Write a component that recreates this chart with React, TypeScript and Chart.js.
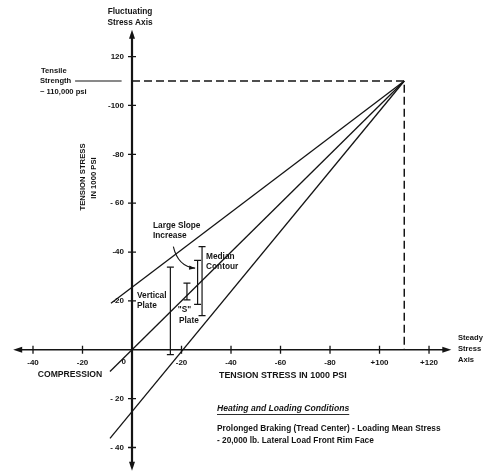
import React, { useEffect, useRef } from "react";
import { Chart, registerables } from "chart.js";

Chart.register(...registerables);

// Stress axes, in 1000 psi
const X_MIN = -48;
const X_MAX = 129;
const Y_MIN = -49.5;
const Y_MAX = 131;

// Tensile strength of the rim material (~110,000 psi)
const tensileStrength = 110;

// Fatigue contours: each runs from its start point up to the tensile strength point
const contourNames = ["Large slope increase", "Median contour", "Lower contour"];
const contourStartX = [-8.5, -8.9, -8.9];
const contourStartY = [19, -8.9, -36.3];

// Measured stress ranges (vertical bars) for each plate design
const rangeNames = ["Vertical plate", "\"S\" plate", "Median A", "Median B"];
const rangeX = [15.5, 22.2, 26.5, 28.3];
const rangeLow = [-2, 20.4, 18.6, 14];
const rangeHigh = [33.8, 27.3, 36.6, 42.2];

// Tick marks and their printed labels
const xTickValues = [-40, -20, 0, 20, 40, 60, 80, 100, 120];
const xTickLabels = ["-40", "-20", "0", "-20", "-40", "-60", "-80", "+100", "+120"];
const yTickValues = [120, 100, 80, 60, 40, 20, -20, -40];
const yTickLabels = ["120", "-100", "-80", "- 60", "-40", "-20", "- 20", "- 40"];

const INK = "#141414";
const FONT = "'Liberation Sans', Arial, sans-serif";

function arrowHead(ctx: CanvasRenderingContext2D, tipX: number, tipY: number, angle: number, len: number, half: number) {
  ctx.save();
  ctx.translate(tipX, tipY);
  ctx.rotate(angle);
  ctx.beginPath();
  ctx.moveTo(0, 0);
  ctx.lineTo(-len, -half);
  ctx.lineTo(-len, half);
  ctx.closePath();
  ctx.fill();
  ctx.restore();
}

const axesPlugin = {
  id: "stressAxes",
  beforeDatasetsDraw(chart: any) {
    const { ctx, chartArea, scales } = chart;
    const xs = scales.x;
    const ys = scales.y;
    const x0 = xs.getPixelForValue(0);
    const y0 = ys.getPixelForValue(0);
    ctx.save();
    ctx.strokeStyle = INK;
    ctx.fillStyle = INK;

    // fluctuating stress axis
    ctx.lineWidth = 2.2;
    ctx.beginPath();
    ctx.moveTo(x0, chartArea.top + 4);
    ctx.lineTo(x0, chartArea.bottom - 4);
    ctx.stroke();
    arrowHead(ctx, x0, chartArea.top, -Math.PI / 2, 9, 3);
    arrowHead(ctx, x0, chartArea.bottom, Math.PI / 2, 9, 3);

    // steady stress axis
    ctx.lineWidth = 1.6;
    ctx.beginPath();
    ctx.moveTo(chartArea.left + 4, y0);
    ctx.lineTo(chartArea.right - 4, y0);
    ctx.stroke();
    arrowHead(ctx, chartArea.left, y0, Math.PI, 9, 3);
    arrowHead(ctx, chartArea.right, y0, 0, 9, 3);

    // ticks
    ctx.lineWidth = 1.3;
    ctx.beginPath();
    xTickValues.forEach((v) => {
      if (v === 0) return;
      const px = xs.getPixelForValue(v);
      ctx.moveTo(px, y0 - 4);
      ctx.lineTo(px, y0 + 4);
    });
    yTickValues.forEach((v) => {
      const py = ys.getPixelForValue(v);
      ctx.moveTo(x0 - 4, py);
      ctx.lineTo(x0 + 4, py);
    });
    ctx.stroke();

    // tick labels
    ctx.font = `bold 8px ${FONT}`;
    ctx.textBaseline = "middle";
    xTickValues.forEach((v, i) => {
      const px = xs.getPixelForValue(v);
      if (v === 0) {
        ctx.textAlign = "right";
        ctx.fillText(xTickLabels[i], px - 6, y0 + 12);
      } else {
        ctx.textAlign = "center";
        ctx.fillText(xTickLabels[i], px, y0 + 13);
      }
    });
    ctx.textAlign = "right";
    yTickValues.forEach((v, i) => {
      ctx.fillText(yTickLabels[i], x0 - 8, ys.getPixelForValue(v));
    });
    ctx.restore();
  },
};

const notesPlugin = {
  id: "notes",
  afterDatasetsDraw(chart: any) {
    const { ctx, scales } = chart;
    const xs = scales.x;
    const ys = scales.y;
    ctx.save();
    ctx.fillStyle = INK;
    ctx.strokeStyle = INK;
    ctx.textBaseline = "middle";

    const text = (s: string, x: number, y: number, align: CanvasTextAlign = "left", size = 8.3, style = "bold") => {
      ctx.font = `${style} ${size}px ${FONT}`;
      ctx.textAlign = align;
      ctx.fillText(s, x, y);
    };

    // axis names
    text("Fluctuating", 130, 12, "center");
    text("Stress Axis", 130, 23, "center");
    text("Steady", 458, 338, "left", 7.6);
    text("Stress", 458, 349, "left", 7.6);
    text("Axis", 458, 360, "left", 7.6);

    // tensile strength note
    text("Tensile", 41, 71, "left", 7.6);
    text("Strength", 40, 81, "left", 7.6);
    text("~ 110,000 psi", 40, 92, "left", 7.6);

    // axis titles
    text("COMPRESSION", 70, 375, "center", 8.6);
    text("TENSION STRESS IN 1000 PSI", 219, 376, "left", 8.9);
    ctx.save();
    ctx.translate(83, 177);
    ctx.rotate(-Math.PI / 2);
    text("TENSION STRESS", 0, 0, "center", 7.7);
    ctx.restore();
    ctx.save();
    ctx.translate(94, 178);
    ctx.rotate(-Math.PI / 2);
    text("IN 1000 PSI", 0, 0, "center", 7.7);
    ctx.restore();

    // plot notes
    text("Large Slope", 153, 226);
    text("Increase", 153, 236);
    text("Median", 206, 257);
    text("Contour", 206, 267);
    text("Vertical", 137, 296);
    text("Plate", 137, 306);
    text("\"S\"", 184.5, 310, "center");
    text("Plate", 179, 321);

    // curved pointer from the slope note to the median bars
    const sx = xs.getPixelForValue(16.7), sy = ys.getPixelForValue(42.2);
    const cx = xs.getPixelForValue(18.6), cy = ys.getPixelForValue(34.0);
    const ex = xs.getPixelForValue(25.5), ey = ys.getPixelForValue(33.4);
    ctx.lineWidth = 1.1;
    ctx.beginPath();
    ctx.moveTo(sx, sy);
    ctx.quadraticCurveTo(cx, cy, ex, ey);
    ctx.stroke();
    arrowHead(ctx, ex, ey, Math.atan2(ey - cy, ex - cx), 6, 2.2);

    // loading conditions
    const title = "Heating and Loading Conditions";
    text(title, 217, 409, "left", 8.6, "italic bold");
    const w = ctx.measureText(title).width;
    ctx.lineWidth = 0.9;
    ctx.beginPath();
    ctx.moveTo(217, 414.5);
    ctx.lineTo(217 + w, 414.5);
    ctx.stroke();
    text("Prolonged Braking (Tread Center) - Loading Mean Stress", 217, 429);
    text("- 20,000 lb. Lateral Load Front Rim Face", 217, 441);
    ctx.restore();
  },
};

export default function App() {
  const canvasRef = useRef<HTMLCanvasElement | null>(null);

  useEffect(() => {
    const canvas = canvasRef.current;
    if (!canvas) return;

    const contourSets = contourNames.map((name, i) => ({
      label: name,
      data: [
        { x: contourStartX[i], y: contourStartY[i] },
        { x: tensileStrength, y: tensileStrength },
      ],
      showLine: true,
      borderColor: INK,
      borderWidth: 1.3,
      pointRadius: 0,
    }));

    const rangeSets = rangeNames.map((name, i) => ({
      label: name,
      data: [
        { x: rangeX[i], y: rangeLow[i] },
        { x: rangeX[i], y: rangeHigh[i] },
      ],
      showLine: true,
      borderColor: INK,
      borderWidth: 1.2,
      pointStyle: "line" as const,
      pointRadius: 3.5,
      pointBorderColor: INK,
      pointBorderWidth: 1.3,
    }));

    const strengthSet = {
      label: "Tensile strength",
      data: [
        { x: 0, y: tensileStrength },
        { x: tensileStrength, y: tensileStrength },
        { x: tensileStrength, y: 0 },
      ],
      showLine: true,
      borderColor: INK,
      borderWidth: 1.5,
      borderDash: [8, 4],
      pointRadius: 0,
    };

    const leaderSet = {
      label: "Strength leader",
      data: [
        { x: -23, y: tensileStrength },
        { x: -4.2, y: tensileStrength },
      ],
      showLine: true,
      borderColor: INK,
      borderWidth: 1.1,
      pointRadius: 0,
    };

    const chart = new Chart(canvas, {
      type: "scatter",
      data: { datasets: [strengthSet, leaderSet, ...contourSets, ...rangeSets] as any },
      options: {
        responsive: false,
        animation: false,
        events: [],
        layout: { padding: { left: 13.2, right: 33.7, top: 29.7, bottom: 5 } },
        scales: {
          x: { type: "linear", min: X_MIN, max: X_MAX, display: false },
          y: { type: "linear", min: Y_MIN, max: Y_MAX, display: false },
        },
        plugins: {
          legend: { display: false },
          tooltip: { enabled: false },
        },
      },
      plugins: [axesPlugin, notesPlugin],
    });

    return () => chart.destroy();
  }, []);

  return (
    <div style={{ position: "absolute", left: 0, top: 0, width: 485, height: 476, background: "#fff" }}>
      <canvas ref={canvasRef} width={485} height={476} />
    </div>
  );
}
